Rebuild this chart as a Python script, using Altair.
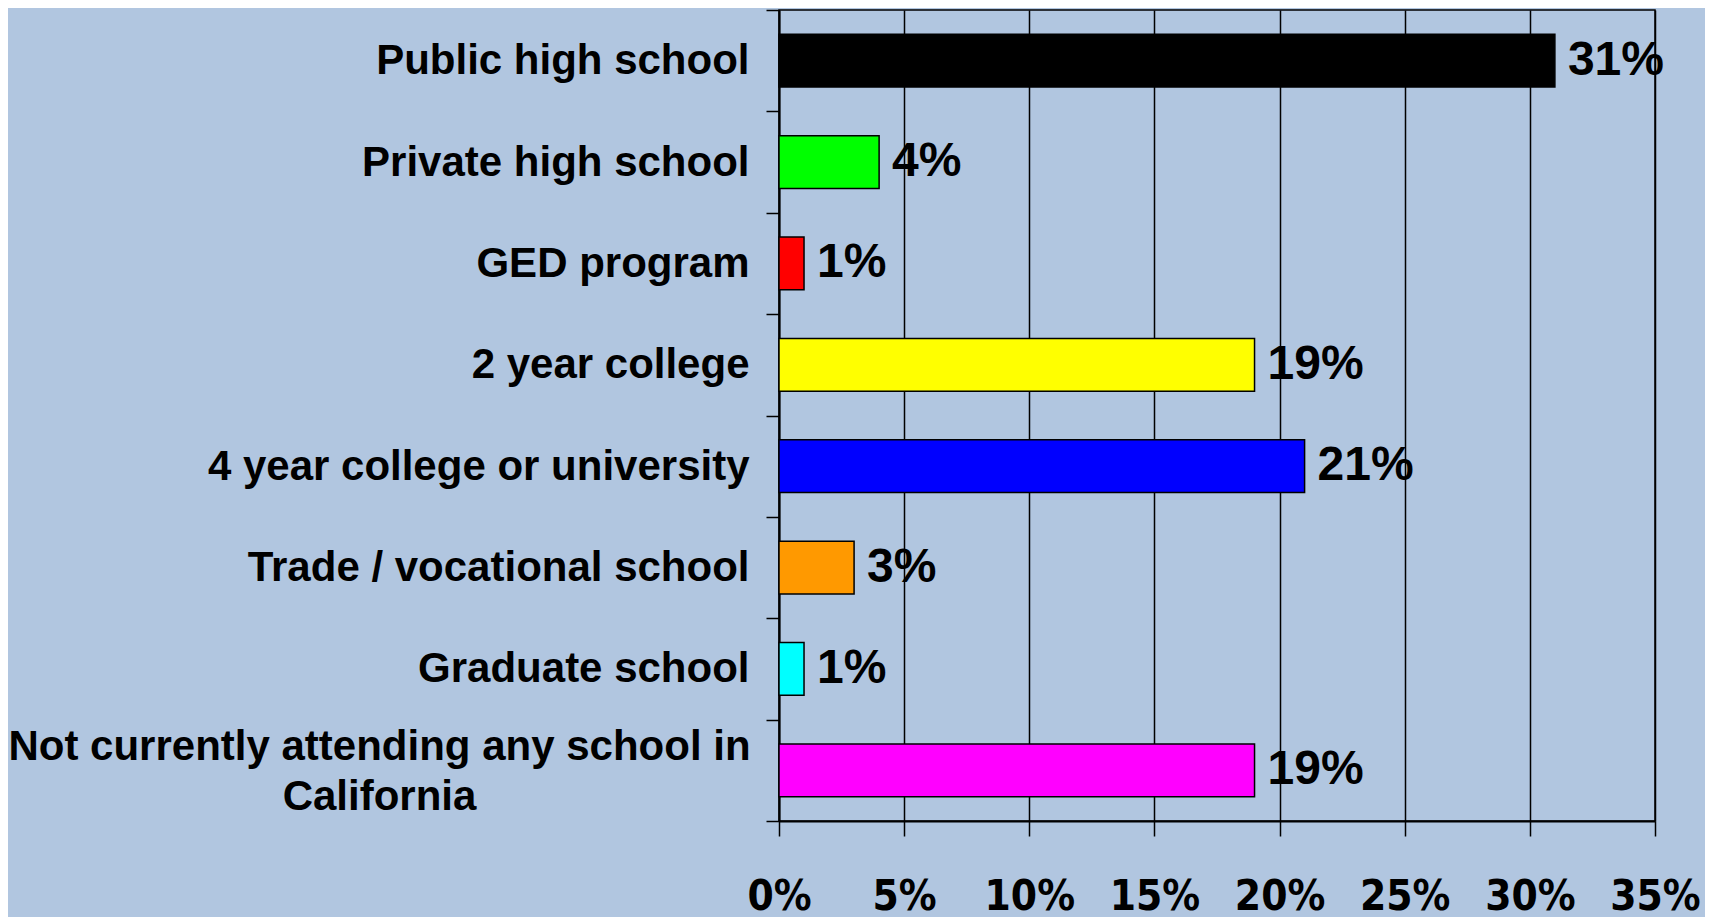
import altair as alt
import pandas as pd

categories = [
    "Public high school",
    "Private high school",
    "GED program",
    "2 year college",
    "4 year college or university",
    "Trade / vocational school",
    "Graduate school",
    "Not currently attending any school in California",
]
values = [31, 4, 1, 19, 21, 3, 1, 19]
colors = ["#000000", "#00ff00", "#ff0000", "#ffff00", "#0000ff", "#ff9900", "#00ffff", "#ff00ff"]
x_ticks = [0, 5, 10, 15, 20, 25, 30, 35]

df = pd.DataFrame({
    "category": categories,
    "value": values,
    "color": colors,
    "label": [f"{v}%" for v in values],
})

LONG = "Not currently attending any school in California"
is_long = f"datum.value == '{LONG}'"
label_expr = (
    f"{is_long} ? ['Not currently attending any school in', 'California'] : datum.value"
)

y_enc = alt.Y(
    "category:N",
    sort=categories,
    scale=alt.Scale(paddingInner=0, paddingOuter=0),
    axis=alt.Axis(
        title=None,
        labelExpr=label_expr,
        labelFont="Liberation Sans",
        labelFontWeight="bold",
        labelFontSize=42,
        labelColor="black",
        labelLimit=0,
        labelAlign={"condition": {"test": is_long, "value": "center"}, "value": "right"},
        labelPadding={"condition": {"test": is_long, "value": 387}, "value": 17},
        labelOffset={"condition": {"test": is_long, "value": -24}, "value": 0},
        labelLineHeight=50,
        tickBand="extent",
        tickSize=13,
        tickColor="black",
        tickWidth=1.5,
        domainColor="black",
        domainWidth=2,
        grid=False,
    ),
)

x_enc = alt.X(
    "value:Q",
    scale=alt.Scale(domain=[0, 35], nice=False),
    axis=alt.Axis(
        title=None,
        values=x_ticks,
        labelExpr="datum.value + '%'",
        labelFont="DejaVu Sans Condensed",
        labelFontWeight="bold",
        labelFontSize=42,
        labelColor="black",
        labelPadding=40,
        labelFlush=False,
        tickSize=15,
        tickColor="black",
        tickWidth=1.5,
        domainColor="black",
        domainWidth=2,
        grid=True,
        gridColor="black",
        gridWidth=1.5,
        gridOpacity=1,
    ),
)

bars = alt.Chart(df).mark_bar(
    stroke="black", strokeWidth=1.5, height={"band": 0.52}
).encode(
    y=y_enc,
    x=x_enc,
    color=alt.Color("color:N", scale=None),
)

text = alt.Chart(df).mark_text(
    align="left",
    baseline="middle",
    dx=13,
    font="Liberation Sans",
    fontWeight="bold",
    fontSize=48,
    color="black",
).encode(
    y=alt.Y("category:N", sort=categories),
    x=alt.X("value:Q"),
    text="label:N",
)

chart = (
    alt.layer(bars, text)
    .properties(
        width=876,
        height=811,
        background="#b1c6e0",
        padding={"left": 771, "top": 2, "right": 50, "bottom": 97},
        autosize=alt.AutoSizeParams(type="none"),
    )
    .configure_view(stroke="black", strokeWidth=1.5)
)

chart.save("out.html", embed_options={"renderer": "svg", "actions": False})
